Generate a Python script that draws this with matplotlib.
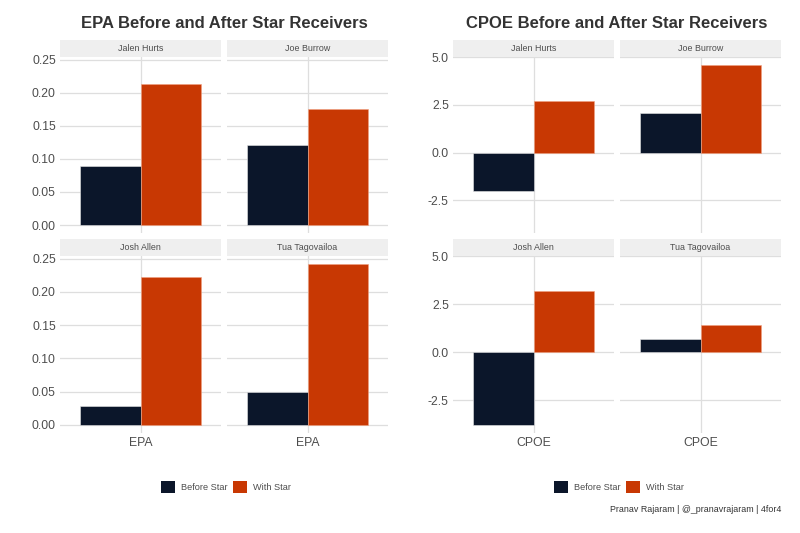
import matplotlib
matplotlib.use("Agg")
import matplotlib.pyplot as plt
from matplotlib.patches import Patch, Rectangle

players = ["Jalen Hurts", "Joe Burrow", "Josh Allen", "Tua Tagovailoa"]
groups = ["Before Star", "With Star"]
epa_before = [0.089, 0.121, 0.028, 0.050]
epa_with = [0.213, 0.176, 0.222, 0.242]
cpoe_before = [-2.0, 2.1, -3.8, 0.7]
cpoe_with = [2.7, 4.6, 3.2, 1.4]

NAVY = "#0B162A"
ORANGE = "#C83803"
GRID = "#dedede"
TXT = "#4d4d4d"

plt.rcParams["font.family"] = ["Liberation Sans", "DejaVu Sans"]

W, H = 800, 533
fig = plt.figure(figsize=(8, 5.33), dpi=100)


def px_axes(x0, x1, y0, y1):
    # pixel box (top-left origin) -> figure axes
    return fig.add_axes([x0 / W, 1 - y1 / H, (x1 - x0) / W, (y1 - y0) / H])


def draw_chart(cols, before, after, metric, ticks, fmt, title, title_x):
    lo = min(0, min(before), min(after))
    hi = max(0, max(before), max(after))
    pad = 0.05 * (hi - lo)
    rows = [(57, 233), (256, 433)]
    for i, name in enumerate(players):
        r, c = divmod(i, 2)
        x0, x1 = cols[c]
        y0, y1 = rows[r]
        ax = px_axes(x0, x1, y0, y1)
        ax.set_axisbelow(True)
        ax.bar(-0.225, before[i], width=0.45, color=NAVY, edgecolor="#e6e6e6", linewidth=0.4)
        ax.bar(0.225, after[i], width=0.45, color=ORANGE, edgecolor="#f0a080", linewidth=0.4)
        ax.set_xlim(-0.6, 0.6)
        ax.set_ylim(lo - pad, hi + pad)
        ax.set_yticks(ticks)
        ax.set_yticklabels([fmt % t for t in ticks])
        ax.set_xticks([0])
        ax.set_xticklabels([metric])
        ax.grid(True, color=GRID, linewidth=0.9)
        for s in ax.spines.values():
            s.set_visible(False)
        ax.tick_params(length=0, labelsize=8.8, colors=TXT, pad=3)
        if r == 0:
            ax.tick_params(labelbottom=False)
        if c == 1:
            ax.tick_params(labelleft=False)
        # facet strip
        sh = 17 / (y1 - y0)
        ax.add_patch(Rectangle((0, 1), 1, sh, transform=ax.transAxes,
                               facecolor="#efefef", edgecolor="none", clip_on=False))
        ax.text(0.5, 1 + sh / 2, name, transform=ax.transAxes, ha="center",
                va="center", fontsize=6.4, color=TXT)
    fig.text(title_x / W, 1 - 23 / H, title, ha="center", va="center",
             fontsize=12, fontweight="bold", color="#333333")
    handles = [Patch(facecolor=NAVY, edgecolor="none"),
               Patch(facecolor=ORANGE, edgecolor="none")]
    fig.legend(handles, groups, loc="center", ncol=2, frameon=False,
               bbox_to_anchor=((title_x + 2) / W, 1 - 487 / H), fontsize=6.6,
               handlelength=1.55, handleheight=1.6, handletextpad=0.7,
               columnspacing=0.55, labelcolor=TXT)


draw_chart([(60, 221), (227, 388)], epa_before, epa_with, "EPA",
           [0.0, 0.05, 0.10, 0.15, 0.20, 0.25], "%.2f",
           "EPA Before and After Star Receivers", 224)
draw_chart([(453, 614), (620, 781)], cpoe_before, cpoe_with, "CPOE",
           [-2.5, 0.0, 2.5, 5.0], "%.1f",
           "CPOE Before and After Star Receivers", 617)

fig.text(781 / W, 1 - 509 / H, "Pranav Rajaram | @_pranavrajaram | 4for4",
         ha="right", va="center", fontsize=6.4, color="#333333")

fig.savefig("out.png", dpi=100, facecolor="white")
